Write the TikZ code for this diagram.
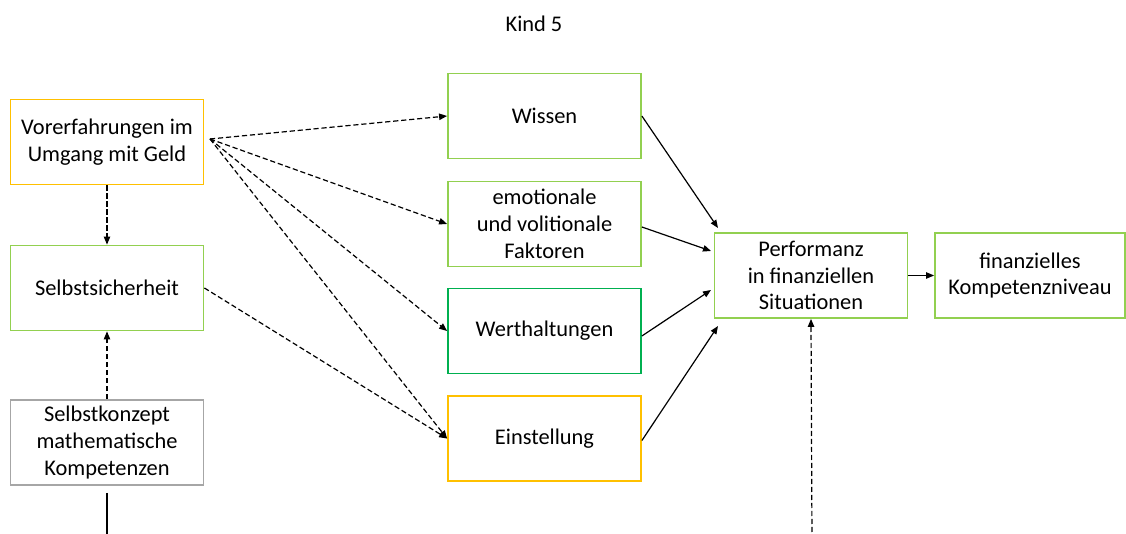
\documentclass[tikz,border=0pt]{standalone}
\usepackage{fontspec}
\setmainfont{Carlito}
\usetikzlibrary{arrows.meta}
\definecolor{boxorange}{HTML}{FFC000}
\definecolor{boxgreen}{HTML}{92D050}
\definecolor{boxdkgreen}{HTML}{00B050}
\definecolor{boxgray}{HTML}{A6A6A6}

\begin{document}
\begin{tikzpicture}[
  x=0.5pt, y=-0.5pt,
  font=\fontsize{11.2}{13.4}\selectfont,
  box/.style={draw, line width=0.9pt, align=center, inner sep=2pt,
              minimum width=96.5pt, minimum height=42.5pt, fill=white},
  org/.style={draw=boxorange},
  grn/.style={draw=boxgreen},
  dkg/.style={draw=boxdkgreen},
  gry/.style={draw=boxgray},
  arr/.style={-{Triangle[length=4pt,width=3.2pt]}, line width=0.6pt},
  darr/.style={arr, dash pattern=on 2.6pt off 1.4pt}]
\useasboundingbox (0,0) rectangle (1126,534);

\node (title) at (534,24) {Kind 5};

% left column
\node[box, org] (vor) at (107,142) {Vorerfahrungen im\\Umgang mit Geld};
\node[box, grn] (selbst) at (107,288) {Selbstsicherheit};
\node[box, gry] (konzept) at (107,442.5) {Selbstkonzept\\mathematische\\Kompetenzen};

% middle column
\node[box, grn] (wissen) at (544.5,116) {Wissen};
\node[box, grn] (emo) at (544.5,224) {emotionale\\und volitionale\\Faktoren};
\node[box, dkg] (wert) at (544.5,331) {Werthaltungen};
\node[box, org] (einst) at (544.5,438.5) {Einstellung};

% right column
\node[box, grn] (perf) at (811,275.5) {Performanz\\in finanziellen\\Situationen};
\node[box, grn, minimum width=95pt] (komp) at (1030,275.5) {finanzielles\\Kompetenzniveau};

% free ends
\coordinate (vorout) at (210,139);
\coordinate (kout) at (107,540);
\coordinate (pin) at (812,540);
\coordinate (p1) at (718,228);
\coordinate (p2) at (711,251);
\coordinate (p3) at (711,290);
\coordinate (p4) at (718,326);

% dashed influences
\foreach \t in {wissen, emo, wert, einst} \draw[darr] (vorout) -- (\t.west);
\draw[darr] (vor) -- (selbst);
\draw[darr] (selbst.east) -- (einst.west);
\draw[darr] (konzept) -- (selbst);
\draw[darr] (pin) -- (perf.south);
\draw[line width=0.6pt, shorten <=3.5pt] (konzept.south) -- (kout);

% solid paths
\draw[arr] (wissen.east) -- (p1);
\draw[arr] ([yshift=-1.5pt]emo.east) -- (p2);
\draw[arr] ([yshift=-2.5pt]wert.east) -- (p3);
\draw[arr] ([yshift=-1pt]einst.east) -- (p4);
\draw[arr] (perf) -- (komp);
\end{tikzpicture}
\end{document}
